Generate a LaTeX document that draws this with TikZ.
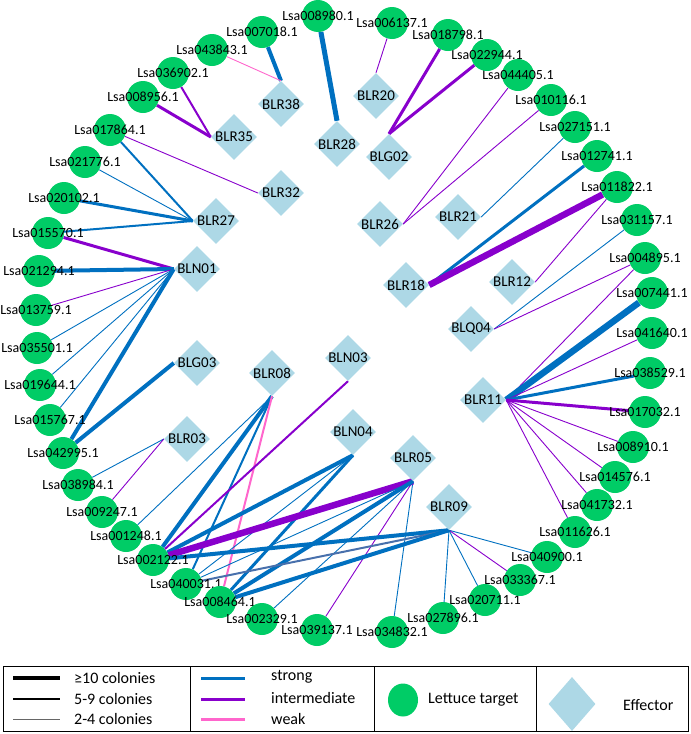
\documentclass[tikz,border=0pt]{standalone}
\usepackage{fontspec}
\setmainfont{Carlito}
\usetikzlibrary{shapes.geometric}
\definecolor{tgreen}{RGB}{0,204,102}
\definecolor{effblue}{RGB}{173,216,230}
\definecolor{estrong}{RGB}{0,112,192}
\definecolor{einter}{RGB}{136,0,204}
\definecolor{eweak}{RGB}{255,102,204}
\definecolor{esteel}{RGB}{72,112,172}
\pgfdeclarelayer{bg}
\pgfsetlayers{bg,main}
\newcommand\tgt[4]{\node[target] (#1) at (#2,#3) {}; \node[lbl] (#1l) at (#1) {#4};}
\newcommand\eff[3]{\node[effector] (#1) at (#2,#3) {}; \node[elbl] (#1l) at (#1) {#1};}
\begin{document}
\begin{tikzpicture}[x=1pt,y=-1pt,
  target/.style={circle,fill=tgreen,minimum size=32pt,inner sep=0pt},
  effector/.style={diamond,aspect=1,fill=effblue,minimum width=46pt,minimum height=46pt,inner sep=0pt},
  lbl/.style={font=\fontsize{14}{16}\selectfont,inner sep=0pt,text=black},
  elbl/.style={font=\fontsize{15}{17}\selectfont,inner sep=0pt,text=black},
  legtxt/.style={font=\fontsize{16}{18}\selectfont,inner sep=0pt,anchor=west,text=black},
  st/.style={draw=estrong},
  im/.style={draw=einter},
  wk/.style={draw=eweak},
  sb/.style={draw=esteel},
  w1/.style={line width=0.9pt},
  w2/.style={line width=2pt},
  w3/.style={line width=3pt},
  w4/.style={line width=4pt},
  w5/.style={line width=5pt},
  w6/.style={line width=6.5pt}
]
\useasboundingbox (0,0) rectangle (691,734);
% targets
\tgt{T1}{318}{16}{Lsa008980.1}
\tgt{T2}{262}{32}{Lsa007018.1}
\tgt{T3}{212}{50}{Lsa043843.1}
\tgt{T4}{173}{73}{Lsa036902.1}
\tgt{T5}{143}{97}{Lsa008956.1}
\tgt{T6}{110}{130}{Lsa017864.1}
\tgt{T7}{85}{162}{Lsa021776.1}
\tgt{T8}{64}{198}{Lsa020102.1}
\tgt{T9}{48}{233}{Lsa015570.1}
\tgt{T10}{39}{271}{Lsa021294.1}
\tgt{T11}{36}{310}{Lsa013759.1}
\tgt{T12}{37}{348}{Lsa035501.1}
\tgt{T13}{40}{385}{Lsa019644.1}
\tgt{T14}{50}{420}{Lsa015767.1}
\tgt{T15}{63}{453}{Lsa042995.1}
\tgt{T16}{78}{485}{Lsa038984.1}
\tgt{T17}{102}{512}{Lsa009247.1}
\tgt{T18}{126}{536}{Lsa001248.1}
\tgt{T19}{153}{560}{Lsa002122.1}
\tgt{T20}{186}{584}{Lsa040031.1}
\tgt{T21}{220}{602}{Lsa008464.1}
\tgt{T22}{262}{619}{Lsa002329.1}
\tgt{T23}{317}{630}{Lsa039137.1}
\tgt{T24}{392}{632}{Lsa034832.1}
\tgt{T25}{443}{618}{Lsa027896.1}
\tgt{T26}{485}{600}{Lsa020711.1}
\tgt{T27}{520}{580}{Lsa033367.1}
\tgt{T28}{547}{557}{Lsa040900.1}
\tgt{T29}{575}{532}{Lsa011626.1}
\tgt{T30}{597}{505}{Lsa041732.1}
\tgt{T31}{615}{477}{Lsa014576.1}
\tgt{T32}{633}{447}{Lsa008910.1}
\tgt{T33}{645}{412}{Lsa017032.1}
\tgt{T34}{650}{373}{Lsa038529.1}
\tgt{T35}{652}{333}{Lsa041640.1}
\tgt{T36}{652}{293}{Lsa007441.1}
\tgt{T37}{645}{258}{Lsa004895.1}
\tgt{T38}{637}{220}{Lsa031157.1}
\tgt{T39}{617}{187}{Lsa011822.1}
\tgt{T40}{597}{156}{Lsa012741.1}
\tgt{T41}{575}{127}{Lsa027151.1}
\tgt{T42}{551}{100}{Lsa010116.1}
\tgt{T43}{518}{75}{Lsa044405.1}
\tgt{T44}{487}{55}{Lsa022944.1}
\tgt{T45}{448}{35}{Lsa018798.1}
\tgt{T46}{392}{23}{Lsa006137.1}
% effectors
\eff{BLR38}{281}{104}
\eff{BLR35}{234}{137}
\eff{BLR32}{281}{193}
\eff{BLR27}{216}{221}
\eff{BLR28}{337}{144}
\eff{BLR20}{376}{96}
\eff{BLG02}{389}{157}
\eff{BLR26}{380}{224}
\eff{BLR21}{458}{217}
\eff{BLR18}{406}{285}
\eff{BLR12}{512}{282}
\eff{BLQ04}{471}{329}
\eff{BLR11}{483}{400}
\eff{BLN01}{197}{269}
\eff{BLG03}{197}{363}
\eff{BLR08}{272}{373}
\eff{BLR03}{187}{439}
\eff{BLN03}{348}{358}
\eff{BLN04}{353}{432}
\eff{BLR05}{413}{458}
\eff{BLR09}{449}{507}
% edges
\begin{pgfonlayer}{bg}
\draw[st,w5] (T1) -- (BLR28.north);
\draw[st,w4] (T2) -- (BLR38.north);
\draw[wk,w1] (T3) -- (BLR38.north);
\draw[im,w2] (T4) -- (BLR35.west);
\draw[im,w3] (T5) -- (BLR35.west);
\draw[im,w1] (T6) -- (BLR32.west);
\draw[st,w2] (T6) -- (BLR27.west);
\draw[st,w1] (T7) -- (BLR27.west);
\draw[st,w3] (T8) -- (BLR27.west);
\draw[st,w2] (T9) -- (BLR27.west);
\draw[im,w3] (T9) -- (BLN01.west);
\draw[im,w1] (T46) -- (BLR20.north);
\draw[im,w3] (T45) -- (BLG02.north);
\draw[im,w3] (T44) -- (BLG02.north);
\draw[im,w1] (T43) -- (BLR26.east);
\draw[im,w1] (T42) -- (BLR26.east);
\draw[st,w1] (T41) -- (BLR21.east);
\draw[st,w3] (T40) -- (BLR18.east);
\draw[im,w6] (T39) -- (BLR18.east);
\draw[im,w1] (T39) -- (BLR12.east);
\draw[st,w1] (T38) -- (BLQ04.east);
\draw[im,w1] (T37) -- (BLQ04.east);
\draw[im,w1] (T37) -- (BLR11.east);
\draw[st,w6] (T36) -- (BLR11.east);
\draw[im,w1] (T35) -- (BLR11.east);
\draw[st,w3] (T34) -- (BLR11.east);
\draw[im,w3] (T33) -- (BLR11.east);
\draw[im,w1] (T32) -- (BLR11.east);
\draw[im,w1] (T31) -- (BLR11.east);
\draw[im,w1] (T30) -- (BLR11.east);
\draw[im,w1] (T29) -- (BLR11.east);
\draw[st,w1] (T28) -- (BLR09.south);
\draw[im,w1] (T27) -- (BLR09.south);
\draw[st,w1] (T26) -- (BLR09.south);
\draw[st,w1] (T25) -- (BLR09.south);
\draw[st,w1] (T24) -- (BLR05.south);
\draw[im,w1] (T23) -- (BLR05.south);
\draw[st,w4] (T10) -- (BLN01.west);
\draw[im,w1] (T11) -- (BLN01.west);
\draw[st,w1] (T12) -- (BLN01.west);
\draw[st,w1] (T13) -- (BLN01.west);
\draw[st,w1] (T14) -- (BLN01.west);
\draw[st,w4] (T15) -- (BLN01.west);
\draw[st,w4] (T15) -- (BLG03.west);
\draw[st,w1] (T16) -- (BLR03.west);
\draw[im,w1] (T17) -- (BLR03.west);
\draw[st,w1] (T18) -- (BLR08.south);
\draw[st,w4] (T19) -- (BLR08.south);
\draw[st,w2] (T20) -- (BLR08.south);
\draw[wk,w2] (T21) -- (BLR08.south);
\draw[im,w2] (T19) -- (BLN03.south);
\draw[st,w4] (T19) -- (BLN04.south);
\draw[st,w1] (T20) -- (BLN04.south);
\draw[st,w3] (T21) -- (BLN04.south);
\draw[im,w6] (T19) -- (BLR05.south);
\draw[st,w1] (T20) -- (BLR05.south);
\draw[st,w4] (T21) -- (BLR05.south);
\draw[st,w1] (T22) -- (BLR05.south);
\draw[st,w4] (T19) -- (BLR09.south);
\draw[sb,w2] (T20) -- (BLR09.south);
\draw[st,w4] (T21) -- (BLR09.south);
\end{pgfonlayer}
% legend
\draw[line width=0.8pt] (3,666) rectangle (688,731);
\draw[line width=0.8pt] (190,666) -- (190,731);
\draw[line width=0.8pt] (374,666) -- (374,731);
\draw[line width=0.8pt] (536,666) -- (536,731);
\draw[black,line width=4.5pt] (13,678) -- (60,678);
\draw[black,line width=2.5pt] (13,699) -- (60,699);
\draw[black!60,line width=0.9pt] (13,719) -- (60,719);
\node[legtxt] (L1) at (74,678) {≥10 colonies};
\node[legtxt] (L2) at (74,699) {5-9 colonies};
\node[legtxt] (L3) at (74,719) {2-4 colonies};
\draw[estrong,line width=3pt] (201,678) -- (245,678);
\draw[einter,line width=3pt] (201,699) -- (245,699);
\draw[eweak,line width=3pt] (201,719) -- (245,719);
\node[legtxt] (L4) at (271,677) {strong};
\node[legtxt] (L5) at (271,698) {intermediate};
\node[legtxt] (L6) at (271,719) {weak};
\node[ellipse,fill=tgreen,minimum width=30pt,minimum height=33pt,inner sep=0pt] (LC) at (403,700) {};
\node[legtxt] (L7) at (428,700) {Lettuce target};
\node[diamond,fill=effblue,minimum width=47pt,minimum height=54pt,inner sep=0pt] (LD) at (572,704) {};
\node[legtxt] (L8) at (623,705) {Effector};
\end{tikzpicture}
\end{document}
